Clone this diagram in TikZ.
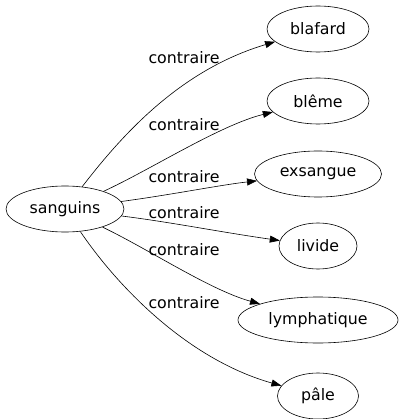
\documentclass[tikz,border=0pt]{standalone}
\usepackage{fontspec}
\setmainfont{DejaVu Sans}
\usetikzlibrary{arrows.meta,shapes.geometric}

\begin{document}
\begin{tikzpicture}[
  x=1pt, y=-1pt,
  font=\fontsize{15.8}{18}\selectfont,
  word/.style={draw, ellipse, inner sep=1pt, minimum height=46pt},
  rel/.style={inner sep=0pt},
  line width=0.6pt,
  >={Triangle[length=10pt, width=7pt]}
]
\useasboundingbox (0,0) rectangle (403,419);

\node[word, minimum width=118pt] (san) at (65,209) {sanguins};
\node[word, minimum width=102pt] (bla) at (318,29) {blafard};
\node[word, minimum width=102pt] (ble) at (318,101) {blême};
\node[word, minimum width=127pt] (exs) at (318,174) {exsangue};
\node[word, minimum width=78pt] (liv) at (318,246) {livide};
\node[word, minimum width=160pt] (lym) at (318,320) {lymphatique};
\node[word, minimum width=81pt] (pal) at (318,396) {pâle};

\node[rel] (r1) at (184,58) {contraire};
\node[rel] (r2) at (184,125) {contraire};
\node[rel] (r3) at (184,177) {contraire};
\node[rel] (r4) at (184,213) {contraire};
\node[rel] (r5) at (184,250) {contraire};
\node[rel] (r6) at (184,303) {contraire};

\draw[->] (san) .. controls (122,135) and (180,70) .. (bla);
\draw[->] (san) .. controls (150,170) and (220,125) .. (ble);
\draw[->] (san) .. controls (170,195) and (220,185) .. (exs);
\draw[->] (san) .. controls (170,222) and (220,232) .. (liv);
\draw[->] (san) .. controls (150,250) and (210,290) .. (lym);
\draw[->] (san) .. controls (120,290) and (190,360) .. (pal);

\end{tikzpicture}
\end{document}
